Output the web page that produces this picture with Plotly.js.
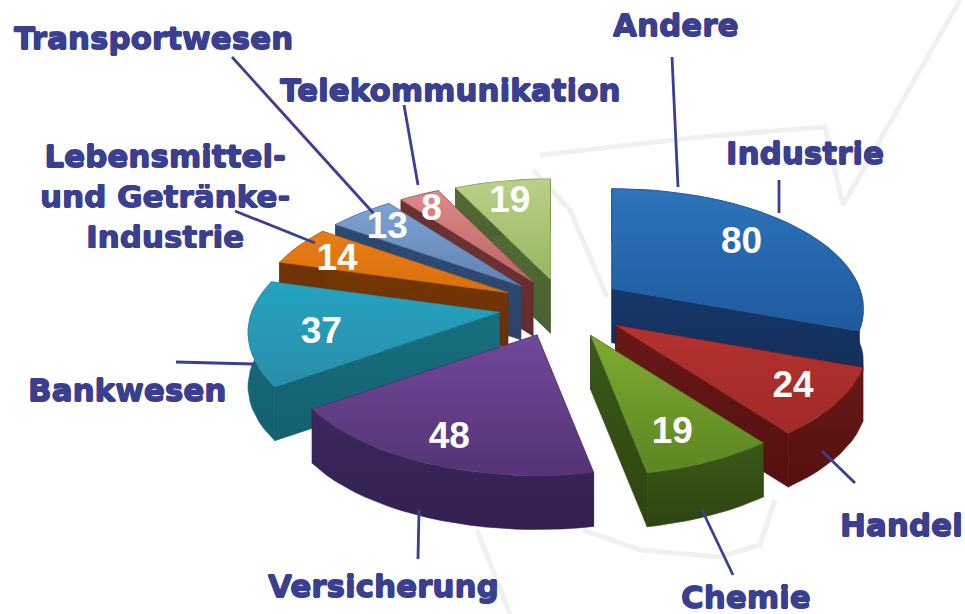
<!DOCTYPE html>
<html><head><meta charset="utf-8">
<script src="https://cdn.plot.ly/plotly-3.0.1.min.js"></script>
<style>html,body{margin:0;padding:0;background:#fff}</style></head>
<body><div id="chart" style="width:965px;height:614px"></div>
<script>
// --- data (clockwise from 12 o'clock) ---
const categories = ["Industrie","Handel","Chemie","Versicherung","Bankwesen","Lebensmittel- und Getränke-Industrie","Transportwesen","Telekommunikation","Andere"];
const values = [80,24,19,48,37,14,13,8,19];

// --- styles ---
const topHi  = ["#2c74bb","#b3322f","#7fab30","#70499a","#23a3c2","#e97d14","#7ea3d4","#dd8a88","#b9d088"];
const topLo  = ["#1f5a9e","#a02a28","#5d8524","#543474","#2a8ea8","#d8700f","#5f82b2","#b96565","#97b75f"];
const wallHi = ["#16386a","#6a1818","#3a5a18","#3d2760","#17707f","#753705","#2f4c75","#703535","#566d38"];
const wallLo = ["#152c57","#551010","#2e4410","#33204f","#136070","#6a3003","#2b4468","#642c2c","#4c6130"];
const navy = "#3a3f90";

// --- projection ---
const Rx=248, Ry=117, K=0.168, Cx=563, Cy=305, EXPLODE=0.264, DEPTH=54, STEP=3;
const nudgeX=[0,-6,-4,3,3,0,0,0,0], nudgeY=[0,0,-3,-4,2,0,0,0,0];
const valueDX=[-11,9,-9,-4,13,-12,-12,-15,-4], valueDY=[4,1,-3,1,5,6,1,-2,2];
function P(deg){const t=deg*Math.PI/180,u=Math.sin(t),v=-Math.cos(t),s=1/(1-K*v);return [Rx*u*s,Ry*v*s];}

const total = values.reduce((a,b)=>a+b,0);
let acc = 0;
const slices = values.map((val,i)=>{
  const a0 = acc/total*360; acc += val; const a1 = acc/total*360; const mid=(a0+a1)/2;
  const m = P(mid);
  return {i,val,a0,a1,mid,ax:Cx+EXPLODE*m[0]+nudgeX[i],ay:Cy+EXPLODE*m[1]+nudgeY[i]};
});

function poly(xs,ys,hi,lo,line){
  return {type:"scatter",mode:"lines",x:xs.concat(xs[0]),y:ys.concat(ys[0]),fill:"toself",
    line:{color:line,width:0.6},hoverinfo:"skip",
    fillgradient:{type:"vertical",colorscale:[[0,lo],[1,hi]]}};
}
function arcPts(s){const pts=[];for(let a=s.a0;a<s.a1;a+=STEP)pts.push(P(a));pts.push(P(s.a1));
  return pts.map(p=>[s.ax+p[0],s.ay+p[1]]);}

const traces=[];
// faint background swooshes
const swooshes=[[[533,170],[570,210],[607,297]],[[540,155],[700,137],[825,127],[843,205],[960,0]],
 [[477,530],[510,614]],[[583,530],[640,550],[720,557],[760,545],[775,500]]];
swooshes.forEach(l=>traces.push({type:"scatter",mode:"lines",x:l.map(p=>p[0]),y:l.map(p=>p[1]),
  line:{color:"#f0f0f0",width:5},hoverinfo:"skip"}));

// painter's order: back to front
slices.slice().sort((a,b)=>a.ay-b.ay).forEach(s=>{
  const arc=arcPts(s), h=topHi[s.i], l=topLo[s.i], wh=wallHi[s.i], wl=wallLo[s.i];
  const first=arc[0], last=arc[arc.length-1];
  const faces=[
    {y:(s.ay+first[1])/2,x:[s.ax,first[0],first[0],s.ax],ys:[s.ay,first[1],first[1]+DEPTH,s.ay+DEPTH]},
    {y:(s.ay+last[1])/2,x:[s.ax,last[0],last[0],s.ax],ys:[s.ay,last[1],last[1]+DEPTH,s.ay+DEPTH]},
  ];
  faces.sort((a,b)=>a.y-b.y).forEach(f=>traces.push(poly(f.x,f.ys,wh,wl,wl)));
  // outer wall
  const ox=arc.map(p=>p[0]), oy=arc.map(p=>p[1]);
  traces.push(poly(ox.concat(ox.slice().reverse()),oy.concat(oy.map(y=>y+DEPTH).reverse()),wh,wl,wl));
  // top face
  traces.push(poly([s.ax].concat(ox),[s.ay].concat(oy),h,l,l));
});

// leader lines
const leaders=[[[672,57],[678,187]],[[779,180],[779,213]],[[404,105],[418,185]],[[232,57],[375,215]],[[235,211],[315,243]],
 [[176,362],[253,364]],[[419,510],[418,559]],[[702,510],[733,575]],[[822,451],[855,483]]];
leaders.forEach(l=>traces.push({type:"scatter",mode:"lines",x:l.map(p=>p[0]),y:l.map(p=>p[1]),
  line:{color:navy,width:2.8},hoverinfo:"skip"}));

// value labels, placed through the same projection
traces.push({type:"scatter",mode:"text",hoverinfo:"skip",
  x:slices.map(s=>s.ax+0.76*P(s.mid)[0]+valueDX[s.i]),
  y:slices.map(s=>s.ay+0.8*P(s.mid)[1]+valueDY[s.i]),
  text:values.map(String),textposition:"middle center",
  textfont:{family:"Liberation Sans, Arial, sans-serif",size:37,color:"#ffffff",weight:700}});

const labelText=["Industrie","Handel","Chemie","Versicherung","Bankwesen","Lebensmittel-<br>und Getränke-<br>Industrie","Transportwesen","Telekommunikation","Andere"];
const labelX=[805,901,746,383,127,165,153,450,676];
const labelY=[153,525,597,586,390,196,38,90,25];
const annotations=labelText.map((t,i)=>({text:t,x:labelX[i],y:labelY[i],xref:"x",yref:"y",showarrow:false,
  xanchor:"center",yanchor:"middle",align:"center",
  font:{family:"DejaVu Sans",size:31,color:navy,weight:700,
        shadow:"0.6px 0 0 "+navy+", -0.6px 0 0 "+navy+", 0 0.6px 0 "+navy+", 0 -0.6px 0 "+navy}}));

Plotly.newPlot("chart",traces,{
  width:965,height:614,margin:{l:0,r:0,t:0,b:0},showlegend:false,
  paper_bgcolor:"#ffffff",plot_bgcolor:"#ffffff",annotations,
  xaxis:{range:[0,965],visible:false,fixedrange:true},
  yaxis:{range:[614,0],visible:false,fixedrange:true}
},{displayModeBar:false,staticPlot:true});
</script></body></html>
